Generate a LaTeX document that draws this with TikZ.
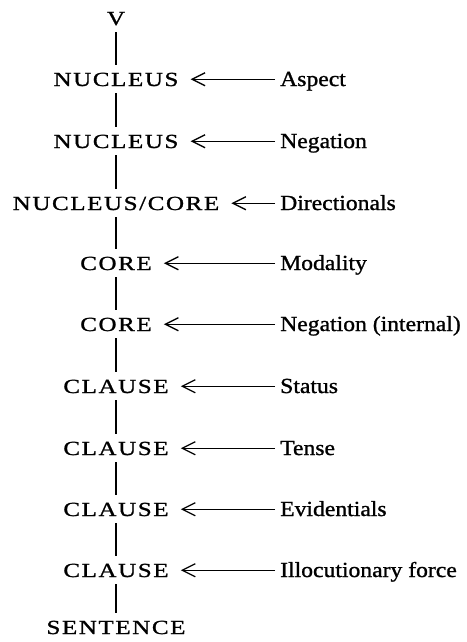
\documentclass[tikz,border=0pt]{standalone}
\usepackage{fontspec}
\setmainfont{Liberation Serif}
\newfontfamily\capsfont[LetterSpace=8,FakeStretch=1.25,FakeBold=1.1]{Liberation Serif}
\newfontfamily\lblfont[FakeStretch=1.1,FakeBold=1.1]{Liberation Serif}
\usetikzlibrary{arrows.meta}
\begin{document}
\begin{tikzpicture}[x=1pt,y=-1pt,
  lvl/.style={anchor=base, font=\capsfont\fontsize{20}{24}\selectfont,
    text height=13.5pt, text depth=0pt, inner xsep=12pt, inner ysep=7pt},
  opr/.style={anchor=base west, font=\lblfont\fontsize{21.5}{26}\selectfont,
    text height=13.5pt, text depth=0pt, inner xsep=5pt, inner ysep=7pt},
  stem/.style={line width=1.5pt},
  feed/.style={line width=1.5pt, -{Straight Barb[length=13pt,width=13pt,line width=1.3pt]}}]
\useasboundingbox (0,0) rectangle (466,642);
\node[lvl] (v)  at (116,25)  {V};
\node[lvl] (n1) at (116,86)  {NUCLEUS};
\node[lvl] (n2) at (116,148) {NUCLEUS};
\node[lvl] (nc) at (116,210) {NUCLEUS/CORE};
\node[lvl] (c1) at (116,270) {CORE};
\node[lvl] (c2) at (116,331) {CORE};
\node[lvl] (k1) at (116,393) {CLAUSE};
\node[lvl] (k2) at (116,455) {CLAUSE};
\node[lvl] (k3) at (116,516) {CLAUSE};
\node[lvl] (k4) at (116,577) {CLAUSE};
\node[lvl] (s)  at (116,634) {SENTENCE};

\node[opr] (a1) at (275,86)  {Aspect};
\node[opr] (a2) at (275,148) {Negation};
\node[opr] (a3) at (275,210) {Directionals};
\node[opr] (a4) at (275,270) {Modality};
\node[opr] (a5) at (275,331) {Negation (internal)};
\node[opr] (a6) at (275,393) {Status};
\node[opr] (a7) at (275,455) {Tense};
\node[opr] (a8) at (275,516) {Evidentials};
\node[opr] (a9) at (275,577) {Illocutionary force};

\draw[stem] (v) -- (n1);
\draw[stem] (n1) -- (n2);
\draw[stem] (n2) -- (nc);
\draw[stem] (nc) -- (c1);
\draw[stem] (c1) -- (c2);
\draw[stem] (c2) -- (k1);
\draw[stem] (k1) -- (k2);
\draw[stem] (k2) -- (k3);
\draw[stem] (k3) -- (k4);
\draw[stem] (k4) -- (s);

\draw[feed] (a1.west) -- (n1.east);
\draw[feed] (a2.west) -- (n2.east);
\draw[feed] (a3.west) -- (nc.east);
\draw[feed] (a4.west) -- (c1.east);
\draw[feed] (a5.west) -- (c2.east);
\draw[feed] (a6.west) -- (k1.east);
\draw[feed] (a7.west) -- (k2.east);
\draw[feed] (a8.west) -- (k3.east);
\draw[feed] (a9.west) -- (k4.east);
\end{tikzpicture}
\end{document}
